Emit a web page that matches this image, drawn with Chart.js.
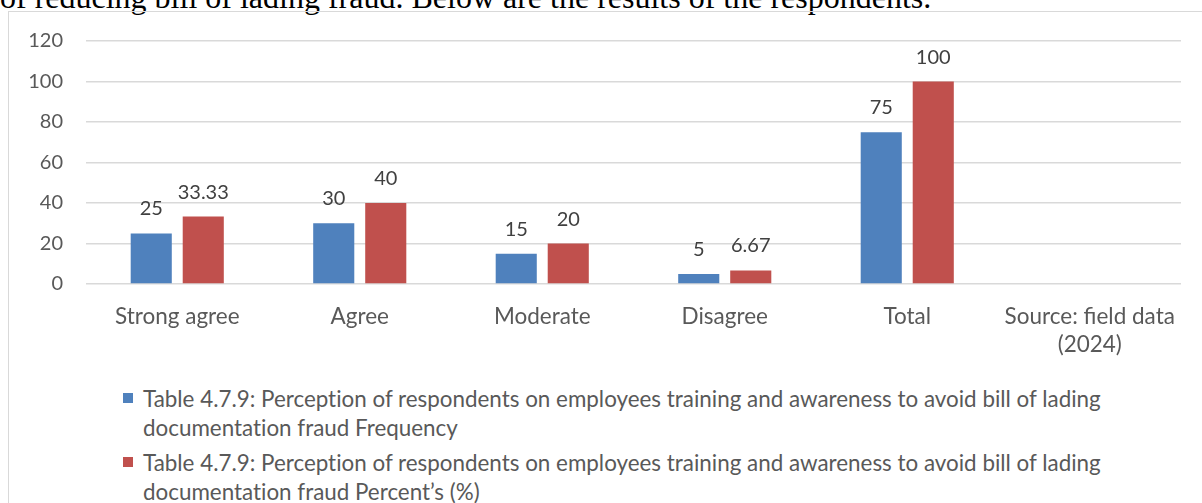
<!DOCTYPE html>
<html>
<head>
<meta charset="utf-8">
<script src="https://cdn.jsdelivr.net/npm/chart.js@4/dist/chart.umd.min.js"></script>
<style>
  html, body { margin: 0; padding: 0; background: #fff; }
  body { width: 1202px; height: 503px; position: relative; overflow: hidden; }
  #toptext { position: absolute; left: 0; top: -19px; font-family: "Liberation Serif", "Times New Roman", serif; font-size: 32px; line-height: 32px; color: #000; white-space: nowrap; }
  #frame { position: absolute; left: 8px; top: 11px; width: 1300px; height: 600px; border: 1.5px solid #d9d9d9; box-sizing: border-box; }
  #wrap { position: absolute; left: 0; top: 0; width: 1202px; height: 372px; }
  #legend { position: absolute; left: 123px; top: 384px; font-family: Lato, "Open Sans", sans-serif; font-size: 22.4px; color: #595959; font-variant-ligatures: none; }
  .item { position: relative; padding-left: 20px; line-height: 29px; margin-bottom: 6px; white-space: nowrap; }
  .sw { position: absolute; left: 0; top: 9px; width: 10px; height: 10px; }
</style>
</head>
<body>
<div id="toptext">of reducing bill of lading fraud. Below are the results of the respondents.</div>
<div id="frame"></div>
<div id="wrap"><canvas id="c" width="1202" height="372"></canvas></div>
<div id="legend"></div>
<script>
const categories = ["Strong agree", "Agree", "Moderate", "Disagree", "Total", ["Source: field data", "(2024)"]];
const frequency = [25, 30, 15, 5, 75, null];
const percent = [33.33, 40, 20, 6.67, 100, null];
const yTicks = [0, 20, 40, 60, 80, 100, 120];
const seriesNames = [
  ["Table 4.7.9: Perception of respondents on employees training and awareness to avoid bill of lading", "documentation fraud Frequency"],
  ["Table 4.7.9: Perception of respondents on employees training and awareness to avoid bill of lading", "documentation fraud Percent\u2019s (%)"]
];
const colors = ["#4f81bd", "#c0504d"];

const FONT = "Lato, 'Open Sans', sans-serif";

const valueLabels = {
  id: 'valueLabels',
  afterDatasetsDraw(chart) {
    const ctx = chart.ctx;
    ctx.save();
    ctx.font = "20px " + FONT;
    ctx.fillStyle = "#404040";
    ctx.textAlign = "center";
    ctx.textBaseline = "alphabetic";
    chart.data.datasets.forEach((ds, i) => {
      const meta = chart.getDatasetMeta(i);
      meta.data.forEach((bar, j) => {
        const v = ds.data[j];
        if (v === null || v === undefined) return;
        ctx.fillText(String(v), bar.x, bar.y - 18);
      });
    });
    ctx.restore();
  }
};

new Chart(document.getElementById('c'), {
  type: 'bar',
  data: {
    labels: categories,
    datasets: [
      { label: seriesNames[0].join(' '), data: frequency, backgroundColor: colors[0], categoryPercentage: 0.57, barPercentage: 0.79 },
      { label: seriesNames[1].join(' '), data: percent, backgroundColor: colors[1], categoryPercentage: 0.57, barPercentage: 0.79 }
    ]
  },
  options: {
    responsive: false,
    animation: false,
    events: [],
    layout: { padding: { left: 0, top: 41, right: 21, bottom: 0 } },
    plugins: { legend: { display: false }, tooltip: { enabled: false } },
    scales: {
      x: {
        grid: { display: false },
        border: { display: false },
        ticks: { font: { family: FONT, size: 22.5, lineHeight: 1.25 }, color: "#595959", padding: 11, maxRotation: 0, autoSkip: false },
        afterFit(s) { s.height = 88; }
      },
      y: {
        min: 0, max: 120,
        afterBuildTicks(s) { s.ticks = yTicks.map(v => ({ value: v })); },
        grid: { color: "#d9d9d9", lineWidth: 1.5, drawTicks: false },
        border: { display: false },
        ticks: { font: { family: FONT, size: 20 }, color: "#595959", padding: 23 },
        afterFit(s) { s.width = 86; }
      }
    }
  },
  plugins: [valueLabels]
});

const leg = document.getElementById('legend');
seriesNames.forEach((lines, i) => {
  const d = document.createElement('div');
  d.className = 'item';
  const sw = document.createElement('span');
  sw.className = 'sw';
  sw.style.background = colors[i];
  d.appendChild(sw);
  lines.forEach((t, k) => {
    if (k) d.appendChild(document.createElement('br'));
    d.appendChild(document.createTextNode(t));
  });
  leg.appendChild(d);
});
</script>
</body>
</html>
